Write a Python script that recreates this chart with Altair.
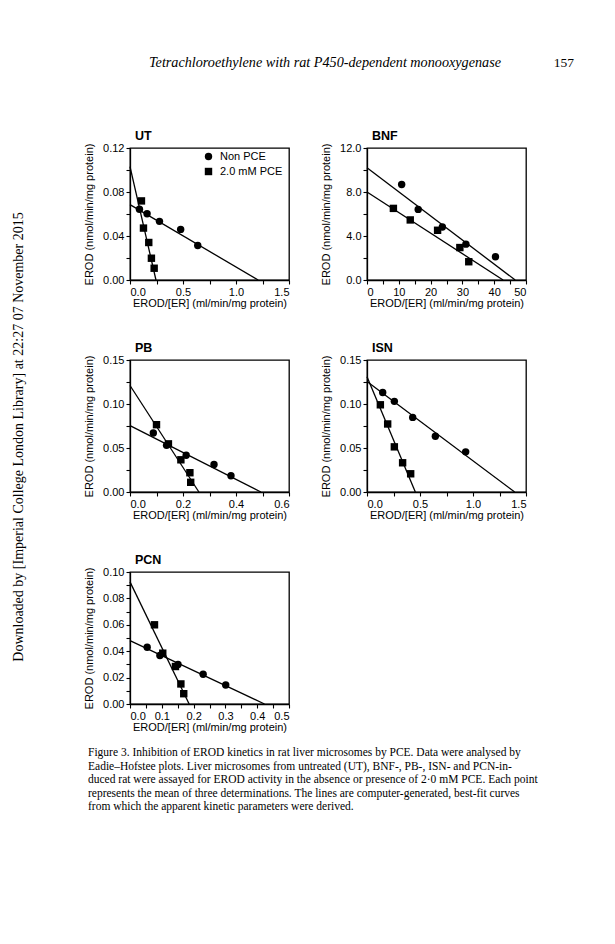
import altair as alt
import pandas as pd

FONT = "Liberation Sans"
SERIF = "Liberation Serif"
series_names = ["Non PCE", "2.0 mM PCE"]
x_title = "EROD/[ER] (ml/min/mg protein)"
y_title = "EROD (nmol/min/mg protein)"

# ---- UT ----
ut_x_non = [0.089, 0.161, 0.278, 0.478, 0.639]
ut_y_non = [0.0643, 0.0603, 0.0533, 0.0460, 0.0314]
ut_x_pce = [0.108, 0.127, 0.177, 0.202, 0.228]
ut_y_pce = [0.0719, 0.0472, 0.0341, 0.0198, 0.0107]
ut_line_y0 = [0.0685, 0.103]
ut_line_x0 = [1.209, 0.245]
ut_xticks = [0, 0.25, 0.5, 0.75, 1.0, 1.25, 1.5]
ut_yticks = [0, 0.02, 0.04, 0.06, 0.08, 0.10, 0.12]

# ---- BNF ----
bnf_x_non = [10.9, 16.1, 23.7, 31.1, 40.4]
bnf_y_non = [8.68, 6.42, 4.82, 3.26, 2.11]
bnf_x_pce = [8.3, 13.6, 22.2, 29.2, 32.0]
bnf_y_pce = [6.51, 5.46, 4.52, 2.95, 1.66]
bnf_line_y0 = [10.2, 8.0]
bnf_line_x0 = [46.6, 42.8]
bnf_xticks = [0, 5, 10, 15, 20, 25, 30, 35, 40, 45, 50]
bnf_yticks = [0, 2, 4, 6, 8, 10, 12]

# ---- PB ----
pb_x_non = [0.088, 0.138, 0.212, 0.317, 0.381]
pb_y_non = [0.0670, 0.0530, 0.0418, 0.0313, 0.0185]
pb_x_pce = [0.100, 0.145, 0.192, 0.226, 0.229]
pb_y_pce = [0.0765, 0.0547, 0.0366, 0.0219, 0.0110]
pb_line_y0 = [0.0754, 0.121]
pb_line_x0 = [0.494, 0.260]
pb_xticks = [0, 0.1, 0.2, 0.3, 0.4, 0.5, 0.6]
pb_yticks = [0, 0.025, 0.05, 0.075, 0.10, 0.125, 0.15]

# ---- ISN ----
isn_x_non = [0.148, 0.258, 0.431, 0.645, 0.931]
isn_y_non = [0.113, 0.103, 0.0848, 0.0633, 0.0456]
isn_x_pce = [0.126, 0.195, 0.258, 0.336, 0.412]
isn_y_pce = [0.0991, 0.0773, 0.0513, 0.0332, 0.0207]
isn_line_y0 = [0.1255, 0.131]
isn_line_x0 = [1.393, 0.456]
isn_xticks = [0, 0.25, 0.5, 0.75, 1.0, 1.25, 1.5]
isn_yticks = [0, 0.025, 0.05, 0.075, 0.10, 0.125, 0.15]

# ---- PCN ----
pcn_x_non = [0.054, 0.094, 0.151, 0.230, 0.301]
pcn_y_non = [0.0430, 0.0367, 0.0299, 0.0225, 0.0144]
pcn_x_pce = [0.077, 0.103, 0.143, 0.160, 0.169]
pcn_y_pce = [0.0600, 0.0385, 0.0284, 0.0152, 0.0078]
pcn_line_y0 = [0.048, 0.0925]
pcn_line_x0 = [0.423, 0.186]
pcn_xticks = [0, 0.05, 0.1, 0.15, 0.2, 0.25, 0.3, 0.35, 0.4, 0.45, 0.5]
pcn_yticks = [0, 0.01, 0.02, 0.03, 0.04, 0.05, 0.06, 0.07, 0.08, 0.09, 0.10]

header_text = "Tetrachloroethylene with rat P450-dependent monooxygenase"
page_number = "157"
side_text = "Downloaded by [Imperial College London Library] at 22:27 07 November 2015"
caption_lines = [
    "Figure 3.  Inhibition of EROD kinetics in rat liver microsomes by PCE. Data were analysed by",
    "Eadie\u2013Hofstee plots. Liver microsomes from untreated (UT), BNF-, PB-, ISN- and PCN-in-",
    "duced rat were assayed for EROD activity in the absence or presence of 2\u00b70 mM PCE. Each point",
    "represents the mean of three determinations. The lines are computer-generated, best-fit curves",
    "from which the apparent kinetic parameters were derived.",
]

W, H = 159, 132


def label_expr(step, fmt):
    return (f"abs(datum.value/{step} - round(datum.value/{step})) < 0.001 ? "
            f"format(datum.value, '{fmt}') : ''")


def text_layer(txt, x, y, size, font=SERIF, style="normal", weight="normal", align="left",
               angle=0, baseline="alphabetic", line_height=None):
    kw = dict(font=font, fontSize=size, fontStyle=style, fontWeight=weight, align=align,
              baseline=baseline, color="black", angle=angle)
    if line_height is not None:
        kw["lineBreak"] = "\n"
        kw["lineHeight"] = line_height
    return alt.Chart(pd.DataFrame({"t": [txt]})).mark_text(**kw).encode(
        text="t:N", x=alt.value(x), y=alt.value(y))


def panel(name, xn, yn, xp, yp, ly0, lx0, xdom, ydom, xticks, yticks,
          xstep, xfmt, ystep, yfmt, legend=None, extra=()):
    pts = pd.DataFrame({
        "x": xn + xp, "y": yn + yp,
        "s": [series_names[0]] * len(xn) + [series_names[1]] * len(xp)})
    lines = pd.DataFrame({"x": [0, 0], "y": ly0, "x2": lx0, "y2": [0, 0]})
    xs = alt.Scale(domain=xdom, nice=False, zero=False)
    ys = alt.Scale(domain=ydom, nice=False, zero=False)
    xa = alt.Axis(values=xticks, labelExpr=label_expr(xstep, xfmt), title=x_title)
    ya = alt.Axis(values=yticks, labelExpr=label_expr(ystep, yfmt), title=y_title)
    rule = alt.Chart(lines).mark_rule(color="black", strokeWidth=1.3).encode(
        x=alt.X("x:Q", scale=xs, axis=xa), y=alt.Y("y:Q", scale=ys, axis=ya),
        x2="x2:Q", y2="y2:Q")
    shape = alt.Shape("s:N", scale=alt.Scale(domain=series_names, range=["circle", "square"]),
                      legend=legend)
    points = alt.Chart(pts).mark_point(filled=True, color="black", size=55, opacity=1).encode(
        x=alt.X("x:Q", scale=xs, axis=xa), y=alt.Y("y:Q", scale=ys, axis=ya), shape=shape)
    title = text_layer(name, 5, -8, 12.5, font=FONT, weight="bold")
    return alt.layer(rule, points, title, *extra).properties(width=W, height=H)


ut_legend = alt.Legend(orient="none", legendX=73, legendY=3, title=None, padding=0,
                       labelFont=FONT, labelFontSize=11, labelColor="black", labelOffset=6,
                       symbolSize=55, rowPadding=0, symbolFillColor="black",
                       symbolStrokeColor="black")

anchor = alt.Chart(pd.DataFrame({"a": [0]})).mark_point(
    filled=True, color="white", size=1, opacity=1).encode(
    x=alt.value(-120), y=alt.value(-138))

ut_extra = [
    anchor,
    text_layer(header_text, 19, -81, 14.2, style="italic"),
    text_layer(page_number, 444, -81, 13.5, align="right"),
    text_layer(side_text, -111, 289, 14, align="center", angle=270, baseline="middle"),
]
pcn_extra = [
    text_layer("\n".join(caption_lines), -42, 184, 11.5, line_height=13.6),
]

ut = panel("UT", ut_x_non, ut_y_non, ut_x_pce, ut_y_pce, ut_line_y0, ut_line_x0,
           [0, 1.5], [0, 0.12], ut_xticks, ut_yticks, 0.5, ".1f", 0.04, ".2f",
           legend=ut_legend, extra=ut_extra)
bnf = panel("BNF", bnf_x_non, bnf_y_non, bnf_x_pce, bnf_y_pce, bnf_line_y0, bnf_line_x0,
            [0, 50], [0, 12], bnf_xticks, bnf_yticks, 10, "d", 4, ".1f")
pb = panel("PB", pb_x_non, pb_y_non, pb_x_pce, pb_y_pce, pb_line_y0, pb_line_x0,
           [0, 0.6], [0, 0.15], pb_xticks, pb_yticks, 0.2, ".1f", 0.05, ".2f")
isn = panel("ISN", isn_x_non, isn_y_non, isn_x_pce, isn_y_pce, isn_line_y0, isn_line_x0,
            [0, 1.5], [0, 0.15], isn_xticks, isn_yticks, 0.5, ".1f", 0.05, ".2f")
pcn = panel("PCN", pcn_x_non, pcn_y_non, pcn_x_pce, pcn_y_pce, pcn_line_y0, pcn_line_x0,
            [0, 0.5], [0, 0.10], pcn_xticks, pcn_yticks, 0.1, ".1f", 0.02, ".2f",
            extra=pcn_extra)

chart = alt.concat(ut, bnf, pb, isn, pcn, columns=2,
                   spacing={"row": 80, "column": 78}, bounds="flush").resolve_scale(
    x="independent", y="independent", shape="independent").resolve_legend(
    shape="independent").properties(padding=0, background="white").configure_view(
    stroke="black", strokeWidth=1.3).configure_axis(
    grid=False, domainColor="black", domainWidth=1.3, tickColor="black", tickSize=4,
    tickWidth=1.1, labelFont=FONT, labelFontSize=11, labelColor="black", labelPadding=2,
    titleFont=FONT, titleFontSize=11, titleFontWeight="normal", titleColor="black",
    labelOverlap=False).configure_axisX(labelPadding=2, titlePadding=0).configure_axisY(
    titlePadding=8)

chart.save("out.html", embed_options={"renderer": "svg", "actions": False})
